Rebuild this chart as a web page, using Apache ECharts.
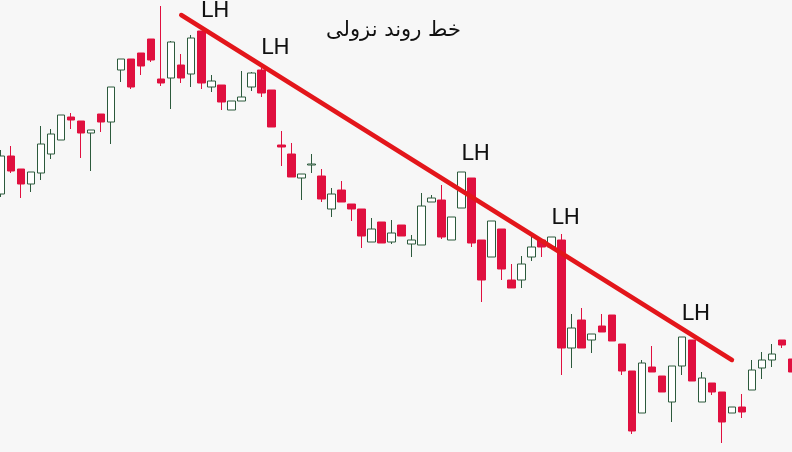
<!DOCTYPE html>
<html>
<head>
<meta charset="utf-8">
<script src="https://cdn.jsdelivr.net/npm/echarts@6/dist/echarts.min.js"></script>
<style>
  html, body { margin: 0; padding: 0; background: #f7f7f7; }
  #chart { width: 792px; height: 452px; }
</style>
</head>
<body>
<div id="chart"></div>
<script>
// candle data (price units, one per bar)
var opens  = [258,296,283,268,279,298,312,335,331,319,338,330,382,393,399,413,373,374,387,378,
              421,365,367,342,351,365,382,362,307,298,274,287,276,243,262,248,243,210,230,210,
              227,208,207,250,252,212,244,274,212,195,223,172,172,195,212,205,212,104,132,112,
              126,137,108,81,39,85,76,50,86,112,50,69,60,39,45,62,84,92,112,93];
var closes = [296,281,268,280,308,318,337,332,319,322,330,365,393,365,386,392,369,410,374,414,
              369,371,350,351,355,379,359,325,305,275,278,288,253,258,250,243,216,223,209,219,
              216,212,246,254,215,235,280,209,172,231,183,164,188,205,205,215,104,124,104,118,
              120,111,81,21,89,80,60,86,115,71,74,60,30,45,40,82,92,98,107,80];
var lows   = [255,279,254,260,272,293,312,323,294,281,320,308,370,363,377,390,366,343,369,365,
              363,360,342,342,351,361,355,325,286,275,252,279,250,235,250,231,204,210,209,208,
              216,195,207,250,213,212,244,205,150,195,172,164,164,191,195,205,77,84,104,99,
              120,111,77,18,39,80,60,30,77,71,50,57,9,39,34,62,73,85,104,80];
var highs  = [302,306,283,280,326,323,337,339,331,322,338,365,393,393,399,413,446,411,398,417,
              421,377,367,351,381,380,384,362,321,309,278,298,283,264,271,248,243,234,230,232,
              227,217,259,257,267,235,280,274,212,231,223,188,196,215,212,215,218,138,144,118,
              138,137,108,81,92,106,76,86,115,112,80,69,60,45,58,92,100,108,112,93];
var categories = [];
for (var i = 0; i < opens.length; i++) categories.push(String(i + 1));

// trend line ends: [bar index, price]
var trendStart = [18, 437];
var trendEnd = [73, 92];

// "LH" labels: bar index and price
var lhIdx = [21, 27, 47, 56, 69];
var lhVal = [441, 404, 298, 234, 138];

var candleData = [];
for (var i = 0; i < opens.length; i++) {
    candleData.push([opens[i], closes[i], lows[i], highs[i]]);
}

var lhPoints = [];
for (var i = 0; i < lhIdx.length; i++) {
    lhPoints.push({ coord: [lhIdx[i], lhVal[i]], value: 'LH' });
}

var myChart = echarts.init(document.getElementById('chart'));
myChart.setOption({
    backgroundColor: '#f7f7f7',
    animation: false,
    title: {
        text: 'خط روند نزولی',
        left: 321,
        top: 15,
        textStyle: {
            fontFamily: 'DejaVu Sans',
            fontSize: 21,
            fontWeight: 'normal',
            color: '#111'
        }
    },
    grid: { left: 1, right: 0, top: 0, bottom: 0 },
    xAxis: {
        type: 'category',
        data: categories,
        boundaryGap: false,
        show: false
    },
    yAxis: {
        type: 'value',
        min: 0,
        max: 452,
        show: false
    },
    series: [{
        type: 'candlestick',
        data: candleData,
        barWidth: 8,
        clip: false,
        itemStyle: {
            color: '#ffffff',
            color0: '#e0103f',
            borderColor: '#2c5a3c',
            borderColor0: '#e0103f',
            borderWidth: 1
        },
        markLine: {
            silent: true,
            symbol: ['none', 'none'],
            label: { show: false },
            lineStyle: {
                color: '#e3161b',
                width: 4.5,
                type: 'solid',
                cap: 'round'
            },
            data: [[{ coord: trendStart }, { coord: trendEnd }]]
        },
        markPoint: {
            silent: true,
            symbol: 'circle',
            symbolSize: 1,
            itemStyle: { color: 'rgba(0,0,0,0)' },
            label: {
                show: true,
                position: 'inside',
                offset: [4, 0],
                formatter: 'LH',
                fontFamily: 'DejaVu Sans',
                fontSize: 22,
                color: '#111'
            },
            data: lhPoints
        }
    }]
});
</script>
</body>
</html>
